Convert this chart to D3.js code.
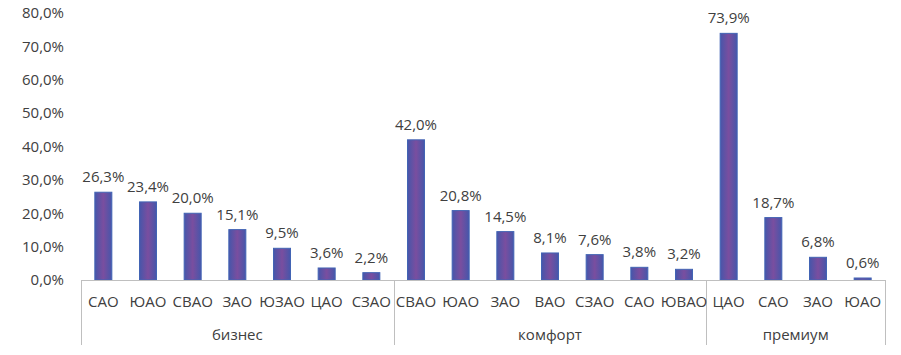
<!DOCTYPE html>
<html>
<head>
<meta charset="utf-8">
<script src="https://cdn.jsdelivr.net/npm/d3@7"></script>
<style>
  body { margin: 0; background: #fff; }
  text { font-family: "Open Sans", "Noto Sans", sans-serif; fill: #404040; }
</style>
</head>
<body>
<svg id="chart" width="901" height="355"></svg>
<script>
var groups = ['бизнес', 'комфорт', 'премиум'];
var districts = [
    ['САО', 'ЮАО', 'СВАО', 'ЗАО', 'ЮЗАО', 'ЦАО', 'СЗАО'],
    ['СВАО', 'ЮАО', 'ЗАО', 'ВАО', 'СЗАО', 'САО', 'ЮВАО'],
    ['ЦАО', 'САО', 'ЗАО', 'ЮАО']
];
var shares = [
    [26.3, 23.4, 20.0, 15.1, 9.5, 3.6, 2.2],
    [42.0, 20.8, 14.5, 8.1, 7.6, 3.8, 3.2],
    [73.9, 18.7, 6.8, 0.6]
];
var yTicks = [0, 10, 20, 30, 40, 50, 60, 70, 80];

var svg = d3.select('#chart');
var plotLeft = 81, plotRight = 885, plotTop = 13, plotBottom = 280;
var fontSize = '15px';

var rows = [];
districts.forEach(function(list, g){
    list.forEach(function(name, i){
        rows.push({key: g + '-' + i, name: name, value: shares[g][i], group: g});
    });
});

var xScale = d3.scaleBand()
    .domain(rows.map(function(d){ return d.key; }))
    .range([plotLeft, plotRight]);
var yScale = d3.scaleLinear().domain([0, 80]).range([plotBottom, plotTop]);
var fmt = function(v){ return v.toFixed(1).replace('.', ',') + '%'; };

var grad = svg.append('defs').append('linearGradient')
    .attr('id', 'barFill').attr('x1', '0%').attr('x2', '100%');
grad.append('stop').attr('offset', '0%').attr('stop-color', '#4656aa');
grad.append('stop').attr('offset', '50%').attr('stop-color', '#7a4e9f');
grad.append('stop').attr('offset', '100%').attr('stop-color', '#4656aa');

//y labels
svg.selectAll('text.ytick')
    .data(yTicks)
    .enter()
    .append('text')
    .attr('class', 'ytick')
    .attr('x', 64)
    .attr('y', function(d){ return yScale(d); })
    .attr('dy', '0.35em')
    .attr('text-anchor', 'end')
    .style('font-size', fontSize)
    .text(fmt);

//bars
var barW = 17;
svg.selectAll('rect.bar')
    .data(rows)
    .enter()
    .append('rect')
    .attr('class', 'bar')
    .attr('x', function(d){ return xScale(d.key) + xScale.bandwidth() / 2 - barW / 2; })
    .attr('width', barW)
    .attr('y', function(d){ return yScale(d.value); })
    .attr('height', function(d){ return plotBottom - yScale(d.value); })
    .attr('fill', 'url(#barFill)')
    .attr('stroke', '#4264b4')
    .attr('stroke-width', 1);

//value labels
svg.selectAll('text.val')
    .data(rows)
    .enter()
    .append('text')
    .attr('class', 'val')
    .attr('x', function(d){ return xScale(d.key) + xScale.bandwidth() / 2; })
    .attr('y', function(d){ return yScale(d.value) - 10; })
    .attr('text-anchor', 'middle')
    .style('font-size', fontSize)
    .text(function(d){ return fmt(d.value); });

//category axis
var axisColor = '#bfbfbf';
svg.append('line')
    .attr('x1', plotLeft).attr('x2', plotRight)
    .attr('y1', plotBottom + 0.5).attr('y2', plotBottom + 0.5)
    .attr('stroke', axisColor);

var bounds = [plotLeft];
var start = 0;
districts.forEach(function(list){
    start += list.length;
    bounds.push(xScale(rows[start - 1].key) + xScale.bandwidth());
});
svg.selectAll('line.div')
    .data(bounds)
    .enter()
    .append('line')
    .attr('class', 'div')
    .attr('x1', function(d){ return Math.round(d) + 0.5; })
    .attr('x2', function(d){ return Math.round(d) + 0.5; })
    .attr('y1', plotBottom)
    .attr('y2', 345)
    .attr('stroke', axisColor);

svg.selectAll('text.cat')
    .data(rows)
    .enter()
    .append('text')
    .attr('class', 'cat')
    .attr('x', function(d){ return xScale(d.key) + xScale.bandwidth() / 2; })
    .attr('y', 302)
    .attr('dy', '0.35em')
    .attr('text-anchor', 'middle')
    .style('font-size', fontSize)
    .text(function(d){ return d.name; });

svg.selectAll('text.grp')
    .data(groups)
    .enter()
    .append('text')
    .attr('class', 'grp')
    .attr('x', function(d, i){ return (bounds[i] + bounds[i + 1]) / 2; })
    .attr('y', 335)
    .attr('dy', '0.35em')
    .attr('text-anchor', 'middle')
    .style('font-size', fontSize)
    .text(function(d){ return d; });
</script>
</body>
</html>
